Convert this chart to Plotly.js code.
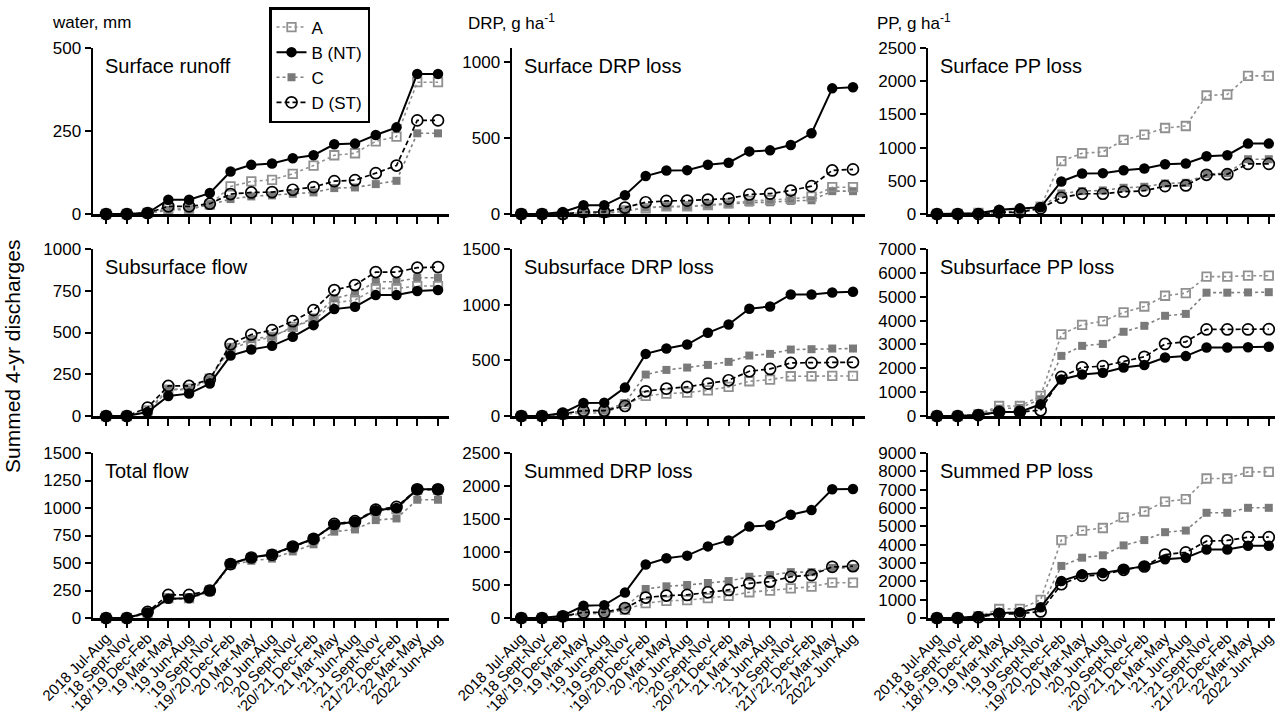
<!DOCTYPE html>
<html>
<head>
<meta charset="utf-8">
<script src="https://cdn.plot.ly/plotly-3.0.1.min.js"></script>
<style>html,body{margin:0;padding:0;background:#fff;}#chart{width:1283px;height:716px;}</style>
</head>
<body>
<div id="chart"></div>
<script>
// ---- categories ----
const categories = ["2018 Jul-Aug","’18 Sept-Nov","’18/’19 Dec-Feb","’19 Mar-May","’19 Jun-Aug","’19 Sept-Nov","’19/’20 Dec-Feb","’20 Mar-May","’20 Jun-Aug","’20 Sept-Nov","’20/’21 Dec-Feb","’21 Mar-May","’21 Jun-Aug","’21 Sept-Nov","’21/’22 Dec-Feb","’22 Mar-May","2022 Jun-Aug"];

const seriesNames = ["A","B (NT)","C","D (ST)"];

// ---- Surface runoff (mm) ----
const surfRunoffA = [0,0,3,16,16,28,83,98,103,121,146,177,183,219,233,397,397];
const surfRunoffB = [0,0,3,43,43,63,128,148,152,168,177,210,212,238,261,422,422];
const surfRunoffC = [0,0,2,12,14,28,45,53,56,61,65,78,80,90,100,243,243];
const surfRunoffD = [0,0,3,23,23,31,60,65,66,73,81,99,102,123,146,282,282];

// ---- Subsurface flow (mm) ----
const subFlowA = [0,0,34,158,164,224,404,444,474,534,574,678,694,764,764,778,778];
const subFlowB = [0,0,24,120,134,194,362,398,420,474,544,640,654,724,724,748,754];
const subFlowC = [0,0,24,158,158,220,414,460,478,528,590,704,734,804,804,828,828];
const subFlowD = [0,0,50,180,180,220,430,488,514,568,634,754,784,862,862,888,892];

// ---- Total flow (mm) ----
const totFlowA = [0,0,45,180,180,250,490,545,575,645,715,845,870,975,990,1165,1165];
const totFlowB = [0,0,50,175,180,250,495,550,580,650,720,850,875,980,1000,1170,1170];
const totFlowC = [0,0,40,170,175,240,480,520,540,605,670,785,805,890,905,1075,1075];
const totFlowD = [0,0,55,210,210,250,490,550,575,650,720,855,880,985,1010,1170,1170];

// ---- Surface DRP loss (g/ha) ----
const surfDrpA = [0,0,0,7,7,24,37,51,51,59,70,86,92,99,114,176,176];
const surfDrpB = [0,0,13,57,57,123,249,286,288,323,337,411,418,453,530,825,832];
const surfDrpC = [0,0,0,4,4,18,42,48,48,57,64,75,77,86,90,150,150];
const surfDrpD = [0,0,0,13,13,42,77,86,88,95,101,128,134,154,183,286,293];

// ---- Subsurface DRP loss (g/ha) ----
const subDrpA = [0,0,15,27,27,105,180,201,210,231,261,312,327,357,357,360,360];
const subDrpB = [0,0,27,117,120,255,558,606,642,747,822,963,984,1092,1092,1110,1116];
const subDrpC = [0,0,15,48,48,117,372,414,435,459,486,543,558,597,600,606,606];
const subDrpD = [0,0,21,48,48,90,222,246,261,291,321,402,423,477,477,483,483];

// ---- Summed DRP loss (g/ha) ----
const sumDrpA = [0,0,25,60,70,125,225,260,270,300,335,390,415,450,475,535,535];
const sumDrpB = [0,0,35,185,195,385,810,905,945,1085,1175,1385,1405,1565,1635,1950,1955];
const sumDrpC = [0,0,25,80,80,160,440,480,500,530,560,625,650,695,695,760,760];
const sumDrpD = [0,0,25,85,85,150,310,340,350,390,425,525,550,625,650,775,785];

// ---- Surface PP loss (g/ha) ----
const surfPpA = [0,0,15,35,45,110,795,915,935,1115,1195,1295,1325,1785,1800,2080,2080];
const surfPpB = [0,0,10,65,85,100,490,610,615,660,685,750,760,870,885,1060,1060];
const surfPpC = [0,0,5,25,35,100,310,345,355,395,410,460,470,600,615,825,825];
const surfPpD = [0,0,0,25,25,85,245,305,305,335,350,420,430,590,600,755,755];

// ---- Subsurface PP loss (g/ha) ----
const subPpA = [0,0,70,420,420,840,3420,3820,3980,4340,4590,5040,5150,5840,5840,5880,5880];
const subPpB = [0,0,40,170,170,490,1530,1740,1810,2030,2140,2450,2510,2870,2870,2880,2900];
const subPpC = [0,0,70,310,340,700,2520,2940,3020,3530,3780,4200,4280,5170,5170,5180,5190];
const subPpD = [0,0,40,170,170,240,1640,2040,2090,2280,2480,3020,3110,3630,3630,3630,3640];

// ---- Summed PP loss (g/ha) ----
const sumPpA = [0,0,90,490,500,990,4250,4770,4910,5490,5810,6350,6480,7610,7610,7970,7970];
const sumPpB = [0,0,90,270,310,580,2020,2380,2450,2660,2830,3200,3290,3740,3740,3940,3940];
const sumPpC = [0,0,90,270,310,540,2840,3290,3420,3960,4250,4680,4770,5740,5740,6010,6010];
const sumPpD = [0,0,40,230,230,360,1840,2300,2340,2630,2810,3460,3580,4190,4230,4410,4410];

const panelTitles = ["Surface runoff","Surface DRP loss","Surface PP loss","Subsurface flow","Subsurface DRP loss","Subsurface PP loss","Total flow","Summed DRP loss","Summed PP loss"];
const unitLabels = ["water, mm","DRP, g ha<sup>-1</sup>","PP, g ha<sup>-1</sup>"];
const yAxisTitle = "Summed 4-yr discharges";

const panels = [
  [surfRunoffA, surfRunoffB, surfRunoffC, surfRunoffD],
  [surfDrpA, surfDrpB, surfDrpC, surfDrpD],
  [surfPpA, surfPpB, surfPpC, surfPpD],
  [subFlowA, subFlowB, subFlowC, subFlowD],
  [subDrpA, subDrpB, subDrpC, subDrpD],
  [subPpA, subPpB, subPpC, subPpD],
  [totFlowA, totFlowB, totFlowC, totFlowD],
  [sumDrpA, sumDrpB, sumDrpC, sumDrpD],
  [sumPpA, sumPpB, sumPpC, sumPpD]
];

// ---- layout geometry (pixels) ----
const W = 1283, H = 716;
const colPx = [[93,449],[512,865],[928,1275]];
const colXRange = [[-0.63,16.53],[-0.45,16.58],[-0.43,16.3]];
const rowPx = [[48,214],[249,416],[453,618]];
const yRanges = [[0,500],[0,1090],[0,2500],[0,1000],[0,1500],[0,7000],[0,1500],[0,2500],[0,9000]];
const yDticks = [250,500,500,250,500,1000,250,500,1000];

const FONT = "Liberation Sans, Arial, Helvetica, sans-serif";

const styles = [
  {line:{color:'#909090', width:1.6, dash:'dot'}, marker:{symbol:'square-open', size:8.5, color:'#909090', line:{width:1.8, color:'#909090'}}, rank:1},
  {line:{color:'#000', width:2}, marker:{symbol:'circle', size:10.5, color:'#000'}, rank:2},
  {line:{color:'#808080', width:1.6, dash:'dot'}, marker:{symbol:'square', size:8, color:'#7a7a7a'}, rank:3},
  {line:{color:'#000', width:1.7, dash:'5px,3px'}, marker:{symbol:'circle-open', size:11, color:'#000', line:{width:1.7, color:'#000'}}, rank:4}
];
const drawOrder = [2,0,3,1];

const traces = [];
const layout = {
  width: W, height: H,
  margin:{l:0,r:0,t:0,b:0},
  paper_bgcolor:'#fff', plot_bgcolor:'rgba(0,0,0,0)',
  font:{family:FONT, size:17, color:'#000'},
  showlegend:true,
  legend:{
    x:269/W, y:1-7/H, xanchor:'left', yanchor:'top',
    bgcolor:'#fff', bordercolor:'#000', borderwidth:2.5,
    font:{family:FONT, size:17, color:'#000'},
    itemwidth:30, tracegroupgap:0
  },
  annotations:[]
};

panels.forEach((series, p) => {
  const r = Math.floor(p/3), c = p%3;
  const sfx = p === 0 ? '' : String(p+1);
  drawOrder.forEach(s => {
    const st = styles[s];
    traces.push({
      type:'scatter', mode:'lines+markers',
      x: categories, y: series[s],
      xaxis:'x'+sfx, yaxis:'y'+sfx,
      name: seriesNames[s], legendrank: st.rank,
      showlegend: p === 0,
      line: st.line, marker: st.marker,
      cliponaxis:false, hoverinfo:'skip'
    });
  });
  layout['xaxis'+sfx] = {
    domain:[colPx[c][0]/W, colPx[c][1]/W],
    anchor:'y'+sfx, type:'category',
    range: colXRange[c],
    showline:true, linecolor:'#000', linewidth:2.5,
    ticks:'outside', ticklen:7, tickwidth:2, tickcolor:'#000',
    tickmode:'array', tickvals: categories, ticktext: categories,
    showticklabels: r === 2, tickangle:-45, ticklabelstandoff:-4,
    tickfont:{family:FONT, size:15, color:'#000'},
    showgrid:false, zeroline:false, fixedrange:true
  };
  layout['yaxis'+sfx] = {
    domain:[1-rowPx[r][1]/H, 1-rowPx[r][0]/H],
    anchor:'x'+sfx,
    range: yRanges[p], dtick: yDticks[p], tick0:0,
    showline:true, linecolor:'#000', linewidth:2.5,
    ticks:'outside', ticklen:6, tickwidth:2, tickcolor:'#000',
    tickfont:{family:FONT, size:17, color:'#000'},
    showgrid:false, zeroline:false, fixedrange:true
  };
  layout.annotations.push({
    text: panelTitles[p], xref:'paper', yref:'paper',
    x:(colPx[c][0]+10)/W, y:1-(rowPx[r][0]+18)/H,
    xanchor:'left', yanchor:'middle', showarrow:false,
    font:{family:FONT, size:20, color:'#000'}
  });
});

const unitX = [50, 466, 875];
unitLabels.forEach((t, i) => {
  layout.annotations.push({
    text:t, xref:'paper', yref:'paper', x:unitX[i]/W, y:1-22/H,
    xanchor:'left', yanchor:'middle', showarrow:false,
    font:{family:FONT, size:17, color:'#000'}
  });
});
layout.annotations.push({
  text:yAxisTitle, xref:'paper', yref:'paper', x:12/W, y:1-357/H,
  xanchor:'center', yanchor:'middle', textangle:-90, showarrow:false,
  font:{family:FONT, size:21, color:'#000'}
});

Plotly.newPlot('chart', traces, layout, {staticPlot:true, displayModeBar:false});
</script>
</body>
</html>
